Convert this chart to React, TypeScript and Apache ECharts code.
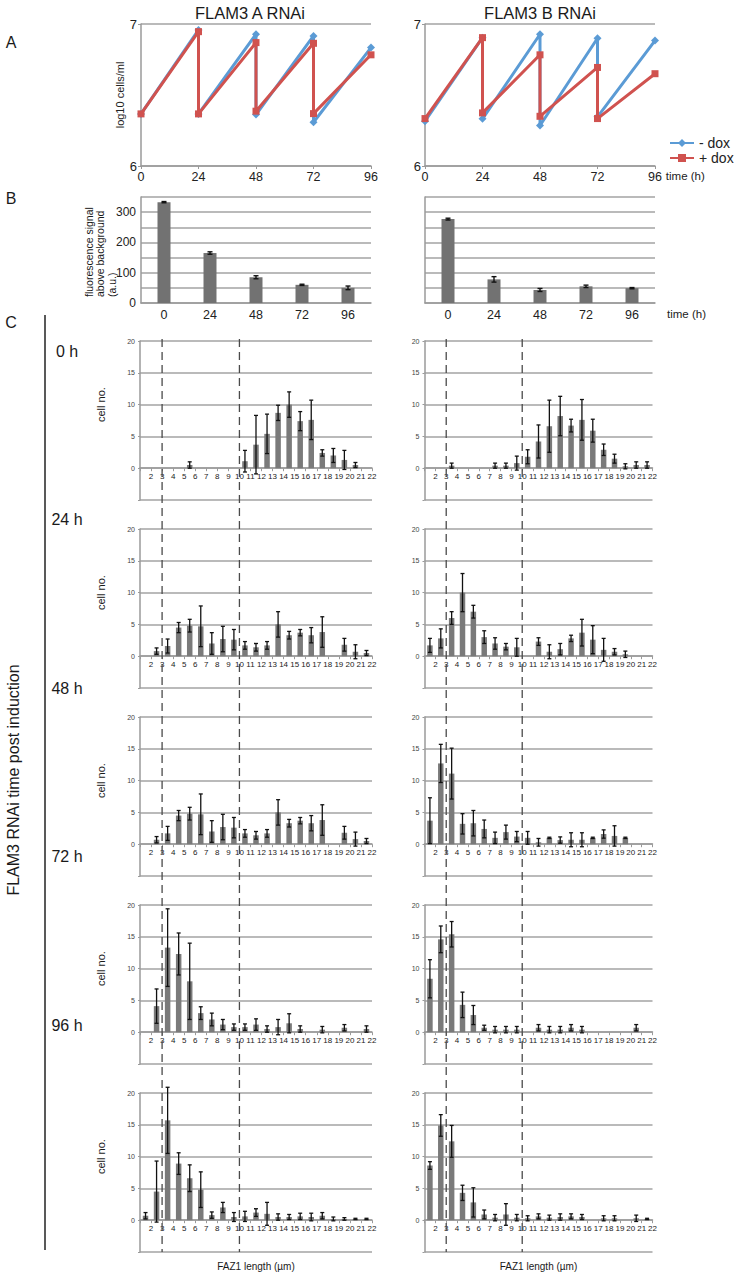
import React, { useEffect, useRef } from "react";
import * as echarts from "echarts";

// ---------- DATA ----------
const growthTimes = [0, 24, 24, 48, 48, 72, 72, 96];
const growthA_minusDox = [6.367, 6.958, 6.367, 6.928, 6.362, 6.916, 6.308, 6.834];
const growthA_plusDox = [6.367, 6.946, 6.367, 6.869, 6.386, 6.864, 6.369, 6.783];
const growthB_minusDox = [6.315, 6.904, 6.332, 6.928, 6.285, 6.9, 6.346, 6.883];
const growthB_plusDox = [6.334, 6.904, 6.374, 6.783, 6.35, 6.694, 6.334, 6.65];

const fluorCats = ["0", "24", "48", "72", "96"];
const fluorA = [333, 165, 85, 60, 50];
const fluorAErr = [2, 4, 5, 2, 6];
const fluorB = [277, 78, 43, 55, 49];
const fluorBErr = [3, 9, 5, 4, 2];

const binStarts = [1, 2, 3, 4, 5, 6, 7, 8, 9, 10, 11, 12, 13, 14, 15, 16, 17, 18, 19, 20, 21];
const rowLabels = ["0 h", "24 h", "48 h", "72 h", "96 h"];

const h0A = [0, 0, 0, 0, 0.5, 0, 0, 0, 0, 1.1, 3.7, 5.4, 8.7, 10.0, 7.4, 7.6, 2.4, 2.0, 1.3, 0.5, 0];
const h0AErr = [0, 0, 0, 0, 0.5, 0, 0, 0, 0, 1.7, 4.6, 3.1, 1.2, 2.0, 1.5, 3.1, 0.5, 1.1, 1.5, 0.4, 0];
const h0B = [0, 0, 0.4, 0, 0, 0, 0.4, 0.4, 0.8, 1.8, 4.2, 6.6, 8.2, 6.7, 7.6, 5.9, 2.9, 1.5, 0.3, 0.5, 0.5];
const h0BErr = [0, 0, 0.4, 0, 0, 0, 0.4, 0.4, 1.1, 1.1, 2.6, 4.1, 3.1, 1.0, 3.2, 1.8, 0.9, 0.7, 0.4, 0.5, 0.5];

const h24A = [0, 0.8, 1.6, 4.5, 4.8, 4.7, 2.0, 2.7, 2.6, 1.7, 1.4, 1.7, 5.0, 3.3, 3.7, 3.3, 3.8, 0, 1.8, 0.7, 0.5];
const h24AErr = [0, 0.5, 1.1, 0.8, 1.0, 3.2, 1.7, 2.0, 1.6, 0.6, 0.6, 0.6, 2.0, 0.6, 0.5, 1.2, 2.4, 0, 1.0, 1.1, 0.4];
const h24B = [1.7, 2.8, 6.0, 10.0, 7.0, 3.0, 2.0, 1.5, 1.4, 0, 2.3, 0.7, 1.1, 2.8, 3.7, 2.6, 1.0, 0.7, 0.3, 0, 0];
const h24BErr = [1.1, 1.5, 1.0, 3.0, 1.0, 1.0, 0.9, 0.5, 1.4, 0, 0.6, 1.1, 0.9, 0.5, 2.1, 2.2, 1.8, 0.5, 0.5, 0, 0];

const h48A = [0, 0.7, 1.7, 4.5, 4.8, 4.7, 2.0, 2.7, 2.6, 1.7, 1.4, 1.7, 5.0, 3.3, 3.7, 3.3, 3.8, 0, 1.8, 0.8, 0.5];
const h48AErr = [0, 0.5, 1.1, 0.8, 1.0, 3.2, 1.7, 2.0, 1.6, 0.6, 0.6, 0.6, 2.0, 0.6, 0.5, 1.2, 2.4, 0, 1.0, 1.1, 0.4];
const h48B = [3.7, 12.7, 11.1, 3.2, 3.3, 2.4, 1.0, 1.9, 1.2, 1.0, 0.3, 1.0, 0.65, 0.7, 0.7, 1.0, 1.6, 1.3, 1.0, 0, 0];
const h48BErr = [3.6, 3.0, 4.0, 1.6, 2.0, 1.4, 0.9, 1.1, 0.8, 1.0, 0.6, 0.1, 0.5, 1.1, 1.1, 0.1, 0.65, 1.6, 0.1, 0, 0];

const h72A = [0, 4.1, 13.3, 12.3, 8.0, 3.0, 2.0, 1.2, 0.8, 0.8, 1.2, 0.5, 0.8, 1.4, 0.5, 0, 0.4, 0, 0.7, 0, 0.5];
const h72AErr = [0, 2.7, 6.1, 3.3, 6.0, 1.0, 1.0, 0.8, 0.5, 0.5, 0.9, 0.5, 1.2, 1.5, 0.5, 0, 0.5, 0, 0.5, 0, 0.5];
const h72B = [8.4, 14.6, 15.4, 4.3, 2.7, 0.7, 0.4, 0.4, 0.4, 0, 0.7, 0.4, 0.4, 0.7, 0.4, 0, 0, 0, 0, 0.7, 0];
const h72BErr = [3.0, 2.1, 2.0, 2.0, 1.5, 0.4, 0.5, 0.5, 0.5, 0, 0.5, 0.5, 0.5, 0.5, 0.5, 0, 0, 0, 0, 0.5, 0];

const h96A = [0.7, 4.5, 15.7, 8.9, 6.6, 4.8, 0.8, 2.0, 0.5, 0.6, 1.2, 1.0, 0.5, 0.5, 0.6, 0.5, 0.7, 0.2, 0.2, 0.2, 0.2];
const h96AErr = [0.5, 4.8, 5.2, 1.7, 2.1, 2.8, 0.5, 0.8, 0.7, 0.8, 0.6, 1.8, 0.5, 0.4, 0.5, 0.6, 0.5, 0.3, 0.2, 0.1, 0.1];
const h96B = [8.6, 14.9, 12.4, 4.3, 2.8, 0.9, 0.4, 0.9, 0.4, 0.3, 0.6, 0.4, 0.5, 0.6, 0.5, 0, 0.3, 0.3, 0, 0.3, 0.2];
const h96BErr = [0.6, 1.7, 2.5, 1.2, 2.3, 0.7, 0.5, 1.7, 0.5, 0.4, 0.4, 0.4, 0.5, 0.4, 0.4, 0, 0.4, 0.4, 0, 0.5, 0.1];

const histRows = [
  [h0A, h0AErr, h0B, h0BErr],
  [h24A, h24AErr, h24B, h24BErr],
  [h48A, h48AErr, h48B, h48BErr],
  [h72A, h72AErr, h72B, h72BErr],
  [h96A, h96AErr, h96B, h96BErr],
];

// ---------- STYLE / LAYOUT ----------
const FONT = '"Liberation Sans", Arial, Helvetica, sans-serif';
const GRID_GRAY = "#a3a3a3";
const AXIS_GRAY = "#9a9a9a";
const BLUE = "#5b9bd5";
const RED = "#d0524f";
const C_HEIGHT = 159;
const C_MIN = -5;
const C_MAX = 20;

function errRender(cap: number, lw: number) {
  return (params: any, api: any) => {
    const x = api.value(0);
    const lo = api.value(1);
    const hi = api.value(2);
    const t = api.coord([x, hi]);
    const b = api.coord([x, lo]);
    const style = { stroke: "#111", lineWidth: lw };
    return {
      type: "group",
      children: [
        { type: "line", shape: { x1: t[0], y1: t[1], x2: b[0], y2: b[1] }, style },
        { type: "line", shape: { x1: t[0] - cap, y1: t[1], x2: t[0] + cap, y2: t[1] }, style },
        { type: "line", shape: { x1: b[0] - cap, y1: b[1], x2: b[0] + cap, y2: b[1] }, style },
      ],
    };
  };
}

function buildOption() {
  const grid: any[] = [
    { left: 141, top: 24, width: 230, height: 142 },
    { left: 425, top: 24, width: 230, height: 142 },
    { left: 141, top: 197, width: 230, height: 106 },
    { left: 425, top: 197, width: 230, height: 106 },
  ];
  const xAxis: any[] = [];
  const yAxis: any[] = [];
  const series: any[] = [];

  // Panel A
  for (let j = 0; j < 2; j++) {
    xAxis.push({
      type: "value", gridIndex: j, min: 0, max: 96, interval: 24,
      axisLine: { lineStyle: { color: AXIS_GRAY, width: 1.5 } },
      axisTick: { show: true, length: 3, lineStyle: { color: AXIS_GRAY } },
      axisLabel: { fontSize: 12.5, color: "#222", margin: 4, fontFamily: FONT },
      splitLine: { show: false },
      name: j === 1 ? "time (h)" : "",
      nameLocation: "end", nameGap: 10,
      nameTextStyle: { fontSize: 11.5, color: "#222", verticalAlign: "top", padding: [4, 0, 0, 0], fontFamily: FONT },
    });
    yAxis.push({
      type: "value", gridIndex: j, min: 6, max: 7, interval: 1,
      axisLine: { show: true, lineStyle: { color: AXIS_GRAY, width: 1.5 } },
      axisTick: { show: true, length: 3, lineStyle: { color: AXIS_GRAY } },
      axisLabel: { fontSize: 13, color: "#222", margin: 4, fontFamily: FONT },
      splitLine: { show: true, lineStyle: { color: GRID_GRAY, width: 1.5 } },
      name: j === 0 ? "log10 cells/ml" : "",
      nameLocation: "middle", nameGap: 13,
      nameTextStyle: { fontSize: 11, color: "#222", fontFamily: FONT },
    });
  }
  const growthSets = [
    [growthA_minusDox, growthA_plusDox],
    [growthB_minusDox, growthB_plusDox],
  ];
  for (let j = 0; j < 2; j++) {
    series.push({
      type: "line", name: "- dox", xAxisIndex: j, yAxisIndex: j,
      data: growthTimes.map((t, k) => [t, growthSets[j][0][k]]),
      symbol: "diamond", symbolSize: 8,
      lineStyle: { color: BLUE, width: 3 }, itemStyle: { color: BLUE }, z: 3,
    });
    series.push({
      type: "line", name: "+ dox", xAxisIndex: j, yAxisIndex: j,
      data: growthTimes.map((t, k) => [t, growthSets[j][1][k]]),
      symbol: "rect", symbolSize: 7,
      lineStyle: { color: RED, width: 3 }, itemStyle: { color: RED }, z: 4,
    });
  }

  // Panel B
  const fluorSets = [
    [fluorA, fluorAErr],
    [fluorB, fluorBErr],
  ];
  for (let j = 0; j < 2; j++) {
    const gi = 2 + j;
    xAxis.push({
      type: "category", gridIndex: gi, data: fluorCats,
      axisLine: { lineStyle: { color: AXIS_GRAY, width: 1.5 } },
      axisTick: { show: false },
      axisLabel: { fontSize: 12.5, color: "#222", margin: 5, fontFamily: FONT },
      name: j === 1 ? "time (h)" : "",
      nameLocation: "end", nameGap: 12,
      nameTextStyle: { fontSize: 11.5, color: "#222", verticalAlign: "top", padding: [5, 0, 0, 0], fontFamily: FONT },
    });
    yAxis.push({
      type: "value", gridIndex: gi, min: 0, max: 350, interval: 50,
      axisLine: { show: true, lineStyle: { color: AXIS_GRAY, width: 1.5 } },
      axisTick: { show: false },
      axisLabel: {
        show: j === 0, fontSize: 12, color: "#222", margin: 5, fontFamily: FONT,
        formatter: (v: number) => (v % 100 === 0 ? String(v) : ""),
      },
      splitLine: { show: true, lineStyle: { color: GRID_GRAY, width: 1.5 } },
    });
    series.push({
      type: "bar", xAxisIndex: gi, yAxisIndex: gi, barWidth: 13,
      data: fluorSets[j][0], itemStyle: { color: "#727272" },
    });
    series.push({
      type: "custom", xAxisIndex: gi, yAxisIndex: gi,
      renderItem: errRender(2.5, 1.4),
      data: fluorSets[j][0].map((v, k) => [k, v - fluorSets[j][1][k], v + fluorSets[j][1][k]]),
      z: 5,
    });
  }

  // Panel C
  const zeroOffset = -(0 - C_MIN) / (C_MAX - C_MIN) * C_HEIGHT;
  for (let i = 0; i < 5; i++) {
    for (let j = 0; j < 2; j++) {
      const gi = 4 + i * 2 + j;
      grid.push({
        left: j === 0 ? 140 : 424.5,
        top: 341 + 188 * i,
        width: j === 0 ? 232 : 228,
        height: C_HEIGHT,
      });
      xAxis.push({
        type: "value", gridIndex: gi, min: 1, max: 22, interval: 1,
        position: "bottom", offset: zeroOffset,
        axisLine: { onZero: false, lineStyle: { color: AXIS_GRAY, width: 1.5 } },
        axisTick: { show: true, length: 3, lineStyle: { color: AXIS_GRAY } },
        axisLabel: {
          fontSize: 8, color: "#222", margin: 4, fontFamily: FONT,
          formatter: (v: number) => (v === 1 ? "" : String(v)),
        },
        splitLine: { show: false },
      });
      yAxis.push({
        type: "value", gridIndex: gi, min: C_MIN, max: C_MAX, interval: 5,
        axisLine: { show: true, lineStyle: { color: AXIS_GRAY, width: 1.5 } },
        axisTick: { show: true, length: 2, lineStyle: { color: AXIS_GRAY } },
        axisLabel: {
          fontSize: 7, color: "#444", margin: 5, fontFamily: FONT,
          formatter: (v: number) => (v < 0 ? "" : String(v)),
        },
        splitLine: { show: true, lineStyle: { color: GRID_GRAY, width: 1.5 } },
      });
      const vals = histRows[i][j * 2];
      const errs = histRows[i][j * 2 + 1];
      series.push({
        type: "bar", xAxisIndex: gi, yAxisIndex: gi, barWidth: 5.5,
        data: binStarts.map((b, k) => [b + 0.5, vals[k]]).filter((d) => d[1] > 0),
        itemStyle: { color: "#7a7a7a" },
      });
      series.push({
        type: "custom", xAxisIndex: gi, yAxisIndex: gi,
        renderItem: errRender(2, 1.3),
        data: binStarts
          .map((b, k) => [b + 0.5, vals[k] - errs[k], vals[k] + errs[k], errs[k]])
          .filter((d) => d[3] > 0)
          .map((d) => [d[0], d[1], d[2]]),
        z: 5,
      });
    }
  }

  return {
    animation: false,
    textStyle: { fontFamily: FONT },
    grid, xAxis, yAxis, series,
    legend: {
      data: ["- dox", "+ dox"],
      orient: "vertical", left: 664, top: 131,
      itemWidth: 24, itemHeight: 10, itemGap: 1,
      textStyle: { fontSize: 14, lineHeight: 14, color: "#222", fontFamily: FONT },
    },
  };
}

function txt(text: string, x: number, y: number, size: number, extra: any = {}) {
  const { align, lineHeight, ...rest } = extra;
  return {
    type: "text", x, y, silent: true, ...rest,
    style: {
      text, fontSize: size, fontFamily: FONT, fill: "#1a1a1a",
      lineHeight: lineHeight || undefined,
      align: align || "center", verticalAlign: "middle",
      textAlign: align || "center", textVerticalAlign: "middle",
    },
  };
}

function buildGraphic(chart: any) {
  const g: any[] = [];
  g.push(txt("FLAM3 A RNAi", 250, 13, 16.5));
  g.push(txt("FLAM3 B RNAi", 540, 13, 16.5));
  g.push(txt("A", 11, 42, 16));
  g.push(txt("B", 11, 198, 16));
  g.push(txt("C", 11, 322, 16));
  g.push(txt("fluorescence signal\nabove background\n(a.u.)", 100, 297, 10.5, {
    rotation: Math.PI / 2, align: "left", lineHeight: 11.5,
  }));
  g.push({
    type: "line", silent: true,
    shape: { x1: 45, y1: 315, x2: 45, y2: 1250 },
    style: { stroke: "#222", lineWidth: 1.5 },
  });
  g.push(txt("FLAM3 RNAi time post induction", 13, 780, 16, { rotation: Math.PI / 2 }));
  const rowLabelY = [351, 519, 688, 856, 1025];
  rowLabels.forEach((r, i) => g.push(txt(r, 67, rowLabelY[i], 16)));

  for (let i = 0; i < 5; i++) {
    const gi = 4 + i * 2;
    const y10 = chart.convertToPixel({ yAxisIndex: gi }, 10);
    g.push(txt("cell no.", 101, y10, 11, { rotation: Math.PI / 2 }));
  }
  for (let j = 0; j < 2; j++) {
    const topAx = 4 + j;
    const botAx = 4 + 8 + j;
    const yTop = chart.convertToPixel({ yAxisIndex: topAx }, C_MAX) - 2;
    const yBot = chart.convertToPixel({ yAxisIndex: botAx }, C_MIN);
    [3, 10].forEach((v) => {
      const x = chart.convertToPixel({ xAxisIndex: topAx }, v);
      g.push({
        type: "line", silent: true, z: 10,
        shape: { x1: x, y1: yTop, x2: x, y2: yBot },
        style: { stroke: "#4a4a4a", lineWidth: 1.3, lineDash: [8, 5] },
      });
    });
    const xl = chart.convertToPixel({ xAxisIndex: botAx }, 1);
    const xr = chart.convertToPixel({ xAxisIndex: botAx }, 22);
    g.push(txt("FAZ1 length (\u00b5m)", (xl + xr) / 2, 1266, 10));
  }
  return g;
}

export default function App() {
  const ref = useRef<HTMLDivElement>(null);
  useEffect(() => {
    document.body.style.margin = "0";
    const chart = echarts.init(ref.current as HTMLDivElement, null, { renderer: "svg" });
    chart.setOption(buildOption() as any);
    chart.setOption({ graphic: buildGraphic(chart) } as any);
    return () => chart.dispose();
  }, []);
  return <div ref={ref} style={{ width: 734, height: 1279 }} />;
}
